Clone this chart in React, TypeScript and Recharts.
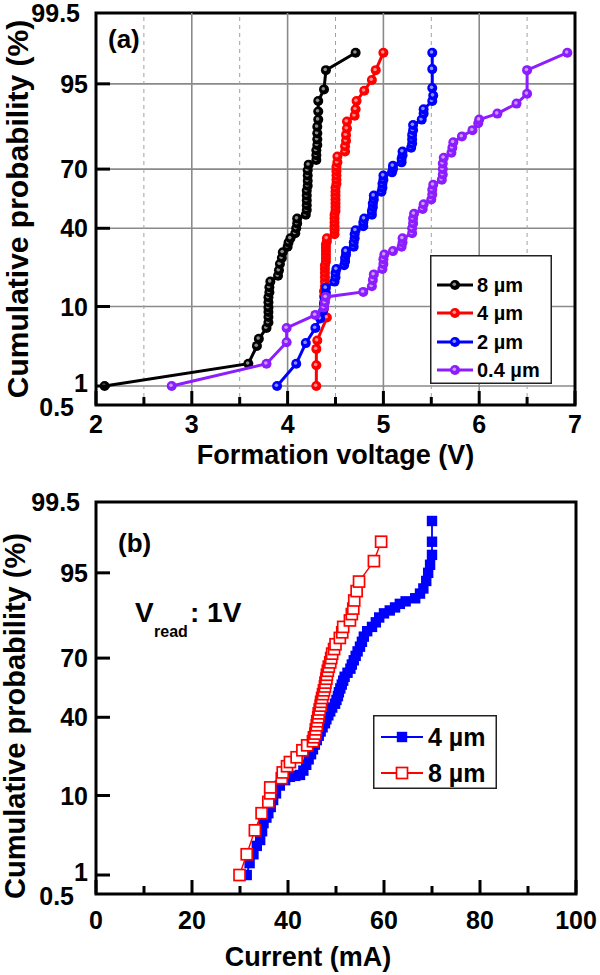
import React from "react";
import {
  ScatterChart,
  Scatter,
  XAxis,
  YAxis,
  CartesianGrid,
  ReferenceLine,
  ReferenceArea,
} from "recharts";

// ─── DATA: [value, cumulative probability %] ───────────────────────────────
const FORM_8UM: [number, number][] = [
  [2.09, 1.0], [3.59, 2.1], [3.68, 3.6], [3.7, 4.4], [3.78, 5.9], [3.8, 6.8],
  [3.8, 7.8], [3.8, 8.8], [3.8, 9.8], [3.8, 11.0], [3.8, 12.3], [3.81, 13.7],
  [3.81, 15.2], [3.82, 17.0], [3.9, 19.0], [3.91, 21.0], [3.92, 23.5],
  [3.94, 26.0], [3.95, 28.5], [4.0, 31.0], [4.01, 33.0], [4.03, 35.0],
  [4.08, 37.5], [4.09, 40.0], [4.1, 42.5], [4.1, 45.0], [4.19, 47.0],
  [4.2, 49.5], [4.2, 52.0], [4.2, 54.5], [4.2, 57.0], [4.2, 59.5], [4.21, 62.0],
  [4.21, 64.5], [4.21, 67.0], [4.21, 69.5], [4.22, 72.0], [4.3, 74.0],
  [4.3, 76.0], [4.3, 78.0], [4.31, 80.0], [4.31, 82.0], [4.31, 84.0],
  [4.31, 86.0], [4.32, 88.0], [4.32, 90.0], [4.32, 92.2], [4.38, 94.2],
  [4.4, 96.6], [4.71, 98.0],
];

const FORM_4UM: [number, number][] = [
  [4.3, 1.0], [4.3, 2.0], [4.3, 3.3], [4.31, 4.2], [4.41, 7.7], [4.38, 9.5],
  [4.38, 11.0], [4.38, 12.5], [4.38, 14.0], [4.39, 15.5], [4.39, 17.0],
  [4.39, 18.5], [4.39, 20.0], [4.39, 21.5], [4.39, 23.0], [4.4, 24.5],
  [4.4, 26.0], [4.4, 27.5], [4.4, 29.0], [4.4, 30.5], [4.4, 32.0], [4.41, 33.5],
  [4.41, 35.0], [4.49, 37.0], [4.49, 39.0], [4.49, 41.0], [4.49, 43.0],
  [4.49, 45.0], [4.49, 47.0], [4.5, 49.0], [4.5, 51.0], [4.5, 53.0], [4.5, 55.0],
  [4.5, 57.0], [4.5, 59.0], [4.5, 61.0], [4.51, 63.0], [4.51, 65.0],
  [4.51, 67.0], [4.51, 69.0], [4.51, 71.0], [4.52, 73.0], [4.52, 75.5],
  [4.6, 77.5], [4.6, 79.5], [4.61, 81.5], [4.61, 83.5], [4.62, 85.5],
  [4.62, 87.5], [4.7, 89.0], [4.71, 90.5], [4.72, 92.2], [4.8, 94.0],
  [4.88, 95.5], [4.92, 96.6], [5.0, 98.0],
];

const FORM_2UM: [number, number][] = [
  [3.89, 1.0], [4.09, 2.1], [4.19, 3.9], [4.29, 5.9], [4.34, 7.5], [4.37, 9.0],
  [4.38, 10.5], [4.39, 12.0], [4.4, 13.5], [4.4, 15.0], [4.49, 17.0],
  [4.5, 18.5], [4.5, 20.0], [4.51, 21.5], [4.59, 23.0], [4.6, 24.5], [4.6, 26.0],
  [4.61, 27.5], [4.61, 29.0], [4.69, 31.0], [4.69, 33.0], [4.7, 35.0],
  [4.7, 37.0], [4.71, 39.0], [4.79, 41.0], [4.79, 43.0], [4.8, 45.0],
  [4.88, 47.0], [4.88, 49.0], [4.89, 51.0], [4.89, 53.0], [4.9, 55.0],
  [4.9, 57.0], [4.98, 59.0], [4.99, 61.0], [4.99, 63.0], [5.0, 65.0],
  [5.0, 67.0], [5.09, 68.5], [5.1, 70.0], [5.1, 71.5], [5.19, 73.0],
  [5.19, 74.5], [5.2, 76.0], [5.2, 77.5], [5.29, 79.0], [5.3, 80.5],
  [5.3, 82.0], [5.3, 83.5], [5.31, 85.0], [5.31, 86.5], [5.4, 88.0],
  [5.42, 89.5], [5.42, 90.5], [5.51, 92.2], [5.52, 93.2], [5.51, 94.4],
  [5.51, 96.7], [5.51, 98.0],
];

const FORM_04UM: [number, number][] = [
  [2.79, 1.0], [3.78, 2.1], [3.99, 4.0], [3.99, 5.9], [4.29, 8.2], [4.38, 9.8],
  [4.39, 11.0], [4.4, 12.4], [4.79, 13.8], [4.88, 15.5], [4.89, 17.5],
  [4.9, 19.5], [4.99, 21.5], [5.0, 23.5], [5.0, 25.5], [5.01, 27.5],
  [5.1, 29.0], [5.19, 31.0], [5.2, 33.0], [5.2, 35.0], [5.3, 37.5], [5.3, 40.0],
  [5.31, 42.5], [5.31, 45.0], [5.32, 47.5], [5.41, 50.0], [5.42, 52.5],
  [5.5, 55.0], [5.51, 57.5], [5.51, 60.0], [5.52, 62.5], [5.61, 65.0],
  [5.62, 67.5], [5.62, 70.0], [5.62, 72.5], [5.63, 75.0], [5.71, 77.0],
  [5.72, 79.0], [5.73, 81.0], [5.82, 83.0], [5.93, 85.0], [5.99, 87.0],
  [6.0, 88.0], [6.19, 89.5], [6.39, 91.7], [6.5, 93.5], [6.5, 96.6],
  [6.92, 98.0],
];

const CURR_4UM: [number, number][] = [
  [31.4, 1.0], [32.0, 1.5], [32.8, 2.0], [33.5, 2.6], [34.2, 3.1], [34.6, 4.0],
  [34.9, 5.0], [35.5, 5.8], [35.9, 6.5], [36.4, 7.6], [36.9, 9.0], [37.5, 10.5],
  [38.3, 12.5], [39.4, 14.0], [40.4, 15.0], [41.5, 15.3], [42.5, 15.6],
  [43.2, 17.0], [43.8, 19.0], [44.3, 21.0], [44.8, 23.0], [45.2, 25.0],
  [45.6, 27.0], [46.0, 29.0], [46.4, 31.0], [46.8, 33.0], [47.2, 35.0],
  [47.7, 37.0], [48.0, 39.0], [48.4, 41.0], [48.8, 43.0], [49.2, 45.0],
  [49.8, 47.0], [50.1, 49.0], [50.4, 51.0], [50.6, 53.0], [50.9, 55.0],
  [51.2, 57.0], [51.5, 59.0], [51.8, 61.0], [52.4, 63.0], [53.0, 65.0],
  [53.3, 67.0], [53.7, 69.0], [54.1, 71.0], [54.5, 73.0], [55.0, 75.0],
  [55.4, 77.0], [55.8, 79.0], [56.5, 81.0], [57.5, 82.5], [58.3, 84.0],
  [59.0, 85.5], [60.0, 86.7], [61.2, 87.5], [62.3, 88.3], [63.3, 89.2],
  [64.5, 89.8], [66.5, 90.5], [67.5, 91.5], [68.2, 92.5], [68.8, 93.8],
  [69.2, 95.0], [69.6, 96.0], [70.0, 97.0], [70.0, 98.0], [70.0, 99.0],
];

const CURR_8UM: [number, number][] = [
  [29.9, 1.0], [31.4, 2.0], [33.1, 4.1], [34.5, 6.5], [35.9, 8.6], [36.3, 10.5],
  [36.3, 12.0], [38.7, 14.6], [38.9, 16.4], [39.8, 18.5], [40.4, 20.0],
  [41.8, 21.8], [43.0, 24.6], [44.0, 26.7], [45.2, 28.5], [45.4, 30.3],
  [45.7, 32.0], [45.8, 34.0], [46.0, 36.0], [46.1, 38.0], [46.3, 40.0],
  [46.4, 42.0], [46.6, 44.0], [46.8, 46.0], [46.9, 48.0], [47.1, 50.0],
  [47.3, 52.0], [47.5, 54.0], [47.7, 56.0], [47.8, 58.0], [48.0, 60.0],
  [48.1, 62.0], [48.3, 64.0], [48.5, 66.0], [48.8, 68.0], [49.0, 70.0],
  [49.2, 72.0], [49.6, 74.0], [49.9, 76.0], [50.8, 78.5], [51.3, 80.6],
  [51.5, 82.5], [52.9, 84.6], [53.3, 86.5], [53.6, 88.0], [53.8, 90.0],
  [54.3, 92.0], [54.8, 93.7], [57.9, 96.4], [59.4, 98.0],
];

const Y_TICK_PCT = [0.5, 1, 10, 40, 70, 95, 99.5];
const Y_TICK_LABELS = ["0.5", "1", "10", "40", "70", "95", "99.5"];
const X_TICKS_A = [2, 2.5, 3, 3.5, 4, 4.5, 5, 5.5, 6, 6.5, 7];
const X_GRID_A = [3, 4, 5, 6];
const X_DASH_A = [2.5, 3.5, 4.5, 5.5, 6.5];
const X_TICKS_B = [0, 10, 20, 30, 40, 50, 60, 70, 80, 90, 100];

const FONT = "'Liberation Sans', Arial, Helvetica, sans-serif";

// ─── PROBABILITY SCALE (inverse normal CDF, Acklam) ────────────────────────
function probit(p: number): number {
  const a = [-39.69683028665376, 220.9460984245205, -275.9285104469687, 138.357751867269, -30.66479806614716, 2.506628277459239];
  const b = [-54.47609879822406, 161.5858368580409, -155.6989798598866, 66.80131188771972, -13.28068155288572];
  const c = [-0.007784894002430293, -0.3223964580411365, -2.400758277161838, -2.549671010229528, 4.374664141464968, 2.938163982698783];
  const d = [0.007784695709041462, 0.3224671290700398, 2.445134137142996, 3.754408661907416];
  const lo = 0.02425;
  if (p < lo) {
    const q = Math.sqrt(-2 * Math.log(p));
    return (((((c[0] * q + c[1]) * q + c[2]) * q + c[3]) * q + c[4]) * q + c[5]) /
      ((((d[0] * q + d[1]) * q + d[2]) * q + d[3]) * q + 1);
  }
  if (p > 1 - lo) {
    const q = Math.sqrt(-2 * Math.log(1 - p));
    return -(((((c[0] * q + c[1]) * q + c[2]) * q + c[3]) * q + c[4]) * q + c[5]) /
      ((((d[0] * q + d[1]) * q + d[2]) * q + d[3]) * q + 1);
  }
  const q = p - 0.5;
  const r = q * q;
  return ((((((a[0] * r + a[1]) * r + a[2]) * r + a[3]) * r + a[4]) * r + a[5]) * q) /
    (((((b[0] * r + b[1]) * r + b[2]) * r + b[3]) * r + b[4]) * r + 1);
}

const ZMAX = probit(0.995);
const Y_TICKS_Z = Y_TICK_PCT.map((p) => probit(p / 100));
const toPoints = (rows: [number, number][]) =>
  rows.map(([x, p]) => ({ x, z: probit(p / 100) }));

const SERIES_A = [
  { name: "8 µm", color: "#000000", rows: FORM_8UM },
  { name: "4 µm", color: "#ff0000", rows: FORM_4UM },
  { name: "2 µm", color: "#0000ff", rows: FORM_2UM },
  { name: "0.4 µm", color: "#8b1dff", rows: FORM_04UM },
];

// ─── MARKERS ───────────────────────────────────────────────────────────────
const Ball = ({ cx, cy, color }: any) => (
  <g>
    <circle cx={cx} cy={cy} r={5} fill={color} />
    <circle cx={cx - 0.7} cy={cy - 0.7} r={1.8} fill="#fff" opacity={0.55} />
  </g>
);

const FilledSquare = ({ cx, cy, color }: any) => (
  <rect x={cx - 5.2} y={cy - 5.2} width={10.4} height={10.4} fill={color} />
);

const OpenSquare = ({ cx, cy, color }: any) => (
  <rect x={cx - 5.5} y={cy - 5.5} width={11} height={11} fill="#fff" stroke={color} strokeWidth={1.7} />
);

// ─── AXIS TICKS ────────────────────────────────────────────────────────────
const YTick = (props: any) => {
  const { x, y, payload } = props;
  let i = 0;
  Y_TICKS_Z.forEach((z, k) => {
    if (Math.abs(z - payload.value) < Math.abs(Y_TICKS_Z[i] - payload.value)) i = k;
  });
  const pct = Y_TICK_PCT[i];
  const inner = pct !== 0.5 && pct !== 99.5;
  const labelX = pct === 0.5 ? x - 22 : pct === 99.5 ? x - 16 : x - 8;
  const labelY = pct === 1 ? y - 3 : pct === 0.5 ? y + 2 : y;
  return (
    <g>
      {inner && <line x1={x} x2={x + 14} y1={y} y2={y} stroke="#000" strokeWidth={3} />}
      <text
        x={labelX}
        y={labelY}
        dy="0.36em"
        textAnchor="end"
        fontFamily={FONT}
        fontWeight="bold"
        fontSize={25}
        fill="#000"
      >
        {Y_TICK_LABELS[i]}
      </text>
    </g>
  );
};

const makeXTick = (majorStep: number, labelDy: number) => (props: any) => {
  const { x, y, payload } = props;
  const v = payload.value;
  const major = Math.abs(v / majorStep - Math.round(v / majorStep)) < 1e-6;
  return (
    <g>
      <line x1={x} x2={x} y1={y} y2={y - (major ? 14 : 8)} stroke="#000" strokeWidth={3} />
      {major && (
        <text
          x={x}
          y={y + labelDy}
          dy="0.36em"
          textAnchor="middle"
          fontFamily={FONT}
          fontWeight="bold"
          fontSize={25}
          fill="#000"
        >
          {v}
        </text>
      )}
    </g>
  );
};

const XTickA = makeXTick(1, 19);
const XTickB = makeXTick(20, 26);

const boldText = {
  fontFamily: FONT,
  fontWeight: "bold" as const,
  fill: "#000",
};

// ─── LEGEND ────────────────────────────────────────────────────────────────
function LegendBox({ left, top, width, height, rows, rowY, lineX, markX, textX, fontSize, marker }: any) {
  return (
    <div style={{ position: "absolute", left, top, width, height }}>
      <svg width={width} height={height}>
        <rect x={0.75} y={0.75} width={width - 1.5} height={height - 1.5} fill="#fff" stroke="#222" strokeWidth={1.5} />
        {rows.map((r: any, i: number) => (
          <g key={r.name}>
            <line x1={lineX[0]} x2={lineX[1]} y1={rowY[i]} y2={rowY[i]} stroke={r.color} strokeWidth={r.lineWidth} />
            {marker(r, markX, rowY[i])}
            <text x={textX} y={rowY[i]} dy="0.36em" fontSize={fontSize} {...boldText}>
              {r.name}
            </text>
          </g>
        ))}
      </svg>
    </div>
  );
}

// ─── PANEL (a) ─────────────────────────────────────────────────────────────
function PanelA() {
  return (
    <ScatterChart width={600} height={487} margin={{ top: 13, right: 25, bottom: 0, left: 0 }}>
      <CartesianGrid vertical={false} stroke="#8a8a8a" strokeWidth={1.6} />
      {X_DASH_A.map((v) => (
        <ReferenceLine key={"d" + v} x={v} stroke="#a0a0a0" strokeWidth={1} strokeDasharray="4 4" />
      ))}
      {X_GRID_A.map((v) => (
        <ReferenceLine key={"g" + v} x={v} stroke="#8a8a8a" strokeWidth={1.6} />
      ))}
      <XAxis
        type="number"
        dataKey="x"
        domain={[2, 7]}
        ticks={X_TICKS_A}
        interval={0}
        height={82}
        tickSize={0}
        tickMargin={0}
        axisLine={false}
        tickLine={false}
        tick={<XTickA />}
        label={{
          content: ({ viewBox }: any) => (
            <text x={viewBox.x + viewBox.width / 2} y={viewBox.y + 59} textAnchor="middle" fontSize={27} {...boldText}>
              Formation voltage (V)
            </text>
          ),
        }}
      />
      <YAxis
        type="number"
        dataKey="z"
        domain={[-ZMAX, ZMAX]}
        ticks={Y_TICKS_Z}
        interval={0}
        width={96}
        tickSize={0}
        tickMargin={0}
        axisLine={false}
        tickLine={false}
        tick={<YTick />}
        label={{
          content: () => (
            <g>
              <text transform="translate(28,209) rotate(-90)" textAnchor="middle" fontSize={30} {...boldText}>
                Cumulative probability (%)
              </text>
              <text x={108} y={48} fontSize={26} {...boldText}>
                (a)
              </text>
            </g>
          ),
        }}
      />
      {SERIES_A.map((s) => (
        <Scatter
          key={s.name}
          name={s.name}
          data={toPoints(s.rows)}
          line={{ stroke: s.color, strokeWidth: 3 }}
          lineType="joint"
          shape={(p: any) => <Ball cx={p.cx} cy={p.cy} color={s.color} />}
          isAnimationActive={false}
        />
      ))}
      <ReferenceArea x1={2} x2={7} y1={-ZMAX} y2={ZMAX} fill="none" stroke="#000" strokeWidth={3} ifOverflow="visible" />
    </ScatterChart>
  );
}

// ─── PANEL (b) ─────────────────────────────────────────────────────────────
function PanelB() {
  return (
    <ScatterChart width={600} height={486} margin={{ top: 13, right: 24, bottom: 0, left: 0 }}>
      <XAxis
        type="number"
        dataKey="x"
        domain={[0, 100]}
        ticks={X_TICKS_B}
        interval={0}
        height={81}
        tickSize={0}
        tickMargin={0}
        axisLine={false}
        tickLine={false}
        tick={<XTickB />}
        label={{
          content: ({ viewBox }: any) => (
            <text x={308} y={viewBox.y + 72} textAnchor="middle" fontSize={27} {...boldText}>
              Current (mA)
            </text>
          ),
        }}
      />
      <YAxis
        type="number"
        dataKey="z"
        domain={[-ZMAX, ZMAX]}
        ticks={Y_TICKS_Z}
        interval={0}
        width={96}
        tickSize={0}
        tickMargin={0}
        axisLine={false}
        tickLine={false}
        tick={<YTick />}
        label={{
          content: () => (
            <g>
              <text transform="translate(25,227) rotate(-90)" textAnchor="middle" fontSize={29} {...boldText}>
                Cumulative probability (%)
              </text>
              <text x={118} y={63} fontSize={26} {...boldText}>
                (b)
              </text>
              <text x={135} y={133} fontSize={28} {...boldText}>
                V
              </text>
              <text x={154} y={148} fontSize={16} {...boldText}>
                read
              </text>
              <text x={190} y={133} fontSize={28} {...boldText}>
                : 1V
              </text>
            </g>
          ),
        }}
      />
      <Scatter
        name="4 µm"
        data={toPoints(CURR_4UM)}
        line={{ stroke: "#0000ff", strokeWidth: 1.8 }}
        lineType="joint"
        shape={(p: any) => <FilledSquare cx={p.cx} cy={p.cy} color="#0000ff" />}
        isAnimationActive={false}
      />
      <Scatter
        name="8 µm"
        data={toPoints(CURR_8UM)}
        line={{ stroke: "#ff0000", strokeWidth: 1.4 }}
        lineType="joint"
        shape={(p: any) => <OpenSquare cx={p.cx} cy={p.cy} color="#ff0000" />}
        isAnimationActive={false}
      />
      <ReferenceArea x1={0} x2={100} y1={-ZMAX} y2={ZMAX} fill="none" stroke="#000" strokeWidth={3} ifOverflow="visible" />
    </ScatterChart>
  );
}

export default function App() {
  return (
    <div style={{ position: "absolute", left: 0, top: 0, width: 600, height: 975, background: "#fff" }}>
      <div style={{ position: "absolute", left: 0, top: 0 }}>
        <PanelA />
      </div>
      <div style={{ position: "absolute", left: 0, top: 489 }}>
        <PanelB />
      </div>
      <LegendBox
        left={430}
        top={255}
        width={122}
        height={129}
        rows={SERIES_A.map((s) => ({ ...s, lineWidth: 3 }))}
        rowY={[30, 58, 87, 115]}
        lineX={[7, 43]}
        markX={25}
        textX={47}
        fontSize={20}
        marker={(r: any, mx: number, my: number) => <Ball cx={mx} cy={my} color={r.color} />}
      />
      <LegendBox
        left={373}
        top={715}
        width={124}
        height={74}
        rows={[
          { name: "4 µm", color: "#0000ff", lineWidth: 1.8, open: false },
          { name: "8 µm", color: "#ff0000", lineWidth: 1.8, open: true },
        ]}
        rowY={[22, 58]}
        lineX={[8, 50]}
        markX={29}
        textX={55}
        fontSize={25}
        marker={(r: any, mx: number, my: number) =>
          r.open ? <OpenSquare cx={mx} cy={my} color={r.color} /> : <FilledSquare cx={mx} cy={my} color={r.color} />
        }
      />
    </div>
  );
}
